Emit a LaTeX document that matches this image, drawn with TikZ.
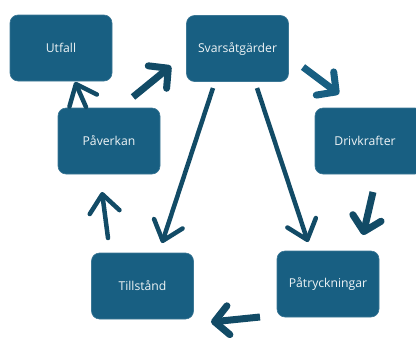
\documentclass[tikz,border=0pt]{standalone}
\usepackage{fontspec}
\setmainfont{Open Sans}
\usetikzlibrary{arrows.meta}
\definecolor{boxblue}{HTML}{185F82}
\definecolor{arrowblue}{HTML}{124B66}
\begin{document}
\begin{tikzpicture}[x=1pt,y=-1pt,
  stagebox/.style={fill=boxblue,draw=boxblue!85!white,line width=0.6pt,rounded corners=8pt,
    minimum width=102pt,minimum height=66pt,inner sep=0pt,text=white!93!boxblue,
    font=\fontsize{12.2}{14}\selectfont},
  thinarrow/.style={draw=arrowblue,line width=4.5pt,line cap=round,
    -{Straight Barb[length=18pt,width=30pt,round]}},
  fatarrow/.style={draw=arrowblue,line width=7pt,
    -{Straight Barb[length=14pt,width=29pt,round]}}]
\useasboundingbox (0,0) rectangle (416,338);
\begin{scope}
\clip (0,0) rectangle (416,338);
\node[stagebox] (utfall) at (61,48) {Utfall};
\node[stagebox] (svar) at (237.5,48.5) {Svarsåtgärder};
\node[stagebox] (paverkan) at (109,141) {Påverkan};
\node[stagebox,minimum width=108pt] (driv) at (369,141) {\hspace*{-8pt}Drivkrafter};
\node[stagebox] (tillstand) at (142.5,286) {Tillstånd};
\node[stagebox] (patryck) at (328,284) {Påtryckningar};
\end{scope}
% free arrow ends
\coordinate (a1s) at (86,107);  \coordinate (a1e) at (75,82);
\coordinate (a2s) at (133,97);  \coordinate (a2e) at (171,66);
\coordinate (a3s) at (303,67);  \coordinate (a3e) at (339,94);
\coordinate (a4s) at (373,192); \coordinate (a4e) at (363,235);
\coordinate (a5s) at (260,317); \coordinate (a5e) at (211,322);
\coordinate (a6s) at (108,238); \coordinate (a6e) at (102,192);
\coordinate (a7s) at (213,88);  \coordinate (a7e) at (162,243);
\coordinate (a8s) at (257,88);  \coordinate (a8e) at (308,242);
% cycle of arrows
\draw[thinarrow] (a1s) -- (a1e);
\draw[fatarrow] (a2s) -- (a2e);
\draw[fatarrow,draw=boxblue] (a3s) -- (a3e);
\draw[fatarrow] (a4s) -- (a4e);
\draw[fatarrow] (a5s) -- (a5e);
\draw[thinarrow] (a6s) -- (a6e);
\draw[thinarrow,line cap=butt] (a7s) -- (a7e);
\draw[thinarrow,line cap=butt] (a8s) -- (a8e);
\end{tikzpicture}
\end{document}
